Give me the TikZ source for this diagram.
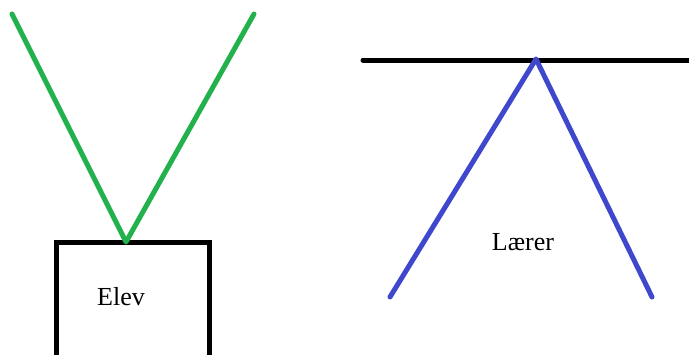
\documentclass[tikz,border=0pt]{standalone}
\usepackage{fontspec}
\setmainfont{Liberation Serif}
\begin{document}
\begin{tikzpicture}[x=1pt,y=-1pt,
  greenline/.style={draw={rgb,255:red,34;green,177;blue,76},line width=5pt,line cap=round,line join=round},
  blueline/.style={draw={rgb,255:red,63;green,72;blue,204},line width=5pt,line cap=round,line join=round},
  blackline/.style={draw=black,line width=5pt,line cap=round},
  boxline/.style={draw=black,line width=5pt},
  lbl/.style={font=\fontsize{26}{30}\selectfont,anchor=base,inner sep=0pt}]
\useasboundingbox (0,0) rectangle (689,354);
\clip (0,0) rectangle (689,354);
\coordinate (gl) at (12,14);
\coordinate (gv) at (126,242);
\coordinate (gr) at (254,14);
\coordinate (bl) at (390,297);
\coordinate (bt) at (536,59);
\coordinate (br) at (652,297);
\coordinate (hl) at (363,60);
\coordinate (hr) at (700,60);
\coordinate (r1) at (56,242);
\coordinate (r2) at (209,370);
\draw[boxline] (r1) rectangle (r2);
\draw[greenline] (gl) -- (gv) -- (gr);
\draw[blackline] (hl) -- (hr);
\draw[blueline] (bl) -- (bt) -- (br);
\node[lbl] (elev) at (121,305) {Elev};
\node[lbl] (laerer) at (523,250) {Lærer};
\end{tikzpicture}
\end{document}
